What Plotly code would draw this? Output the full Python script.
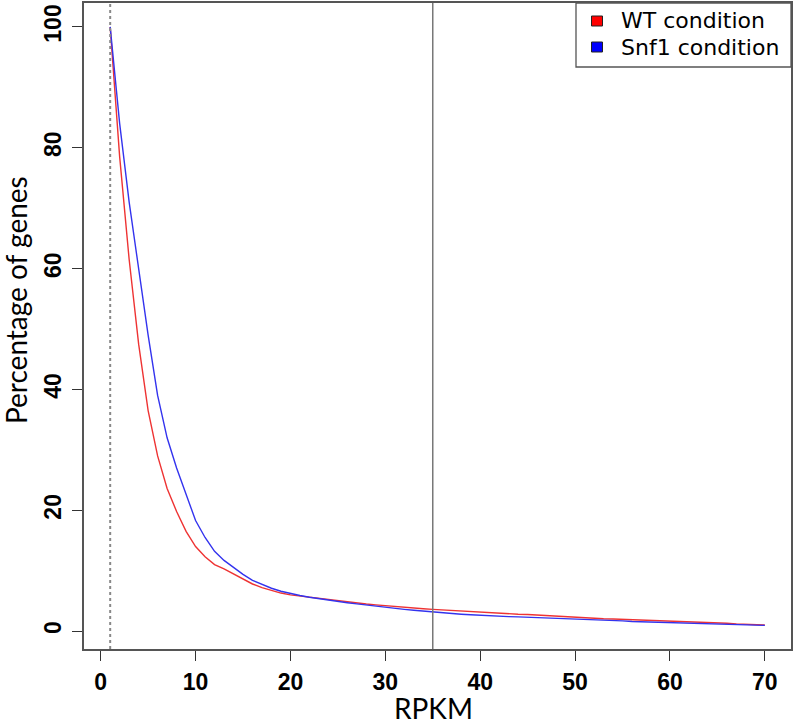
import plotly.graph_objects as go

# ---- data ----
rpkm = list(range(1, 71))
wt_pct = [100, 78.5, 61.5, 47.5, 36.5, 29.0, 23.6, 19.8, 16.5, 14.0,
          12.3, 11.0, 10.3, 9.5, 8.6, 7.8, 7.2, 6.7, 6.3, 6.0,
          5.8, 5.6, 5.4, 5.2, 5.0, 4.85, 4.7, 4.5, 4.35, 4.2,
          4.1, 3.95, 3.85, 3.7, 3.6, 3.5, 3.4, 3.3, 3.2, 3.1,
          3.0, 2.95, 2.85, 2.8, 2.75, 2.65, 2.55, 2.5, 2.4, 2.35,
          2.2, 2.1, 2.05, 2.0, 1.95, 1.9, 1.8, 1.75, 1.7, 1.6,
          1.55, 1.5, 1.45, 1.4, 1.35, 1.3, 1.2, 1.15, 1.1, 1.0]
snf1_pct = [100, 84, 71, 60, 49, 39, 32, 27, 22.5, 18.3,
            15.5, 13.2, 11.7, 10.5, 9.4, 8.4, 7.7, 7.1, 6.6, 6.2,
            5.9, 5.6, 5.35, 5.1, 4.9, 4.7, 4.5, 4.3, 4.1, 3.9,
            3.75, 3.6, 3.45, 3.3, 3.15, 3.0, 2.9, 2.8, 2.7, 2.6,
            2.5, 2.45, 2.4, 2.35, 2.3, 2.25, 2.2, 2.1, 2.05, 2.0,
            1.9, 1.85, 1.8, 1.75, 1.7, 1.6, 1.55, 1.5, 1.45, 1.4,
            1.35, 1.3, 1.25, 1.2, 1.15, 1.1, 1.1, 1.05, 1.0, 0.95]
series_names = ["WT condition", "Snf1 condition"]
series_colors = ["#ee3333", "#3333ee"]
legend_colors = ["#ff0000", "#0000ff"]
x_ticks = [0, 10, 20, 30, 40, 50, 60, 70]
y_ticks = [0, 20, 40, 60, 80, 100]
x_title = "RPKM"
y_title = "Percentage of genes"
low_cutoff = 1
high_cutoff = 35

W, H = 793, 726
L, R, T, B = 84, 2, 3, 77
pw, ph = W - L - R, H - T - B


def px_x(p):
    return (p - L) / pw


def px_y(p):
    return (H - B - p) / ph


fig = go.Figure()
for name, ys, col in zip(series_names, [wt_pct, snf1_pct], series_colors):
    fig.add_trace(go.Scatter(x=rpkm, y=ys, mode="lines", name=name,
                             line=dict(color=col, width=1.4), showlegend=False))

fig.add_vline(x=low_cutoff, line=dict(color="#888888", width=2, dash="3px,3px"))
fig.add_vline(x=high_cutoff, line=dict(color="#777777", width=1.5))

tickfont = dict(family="Liberation Sans, Arial", size=23, color="black", weight="bold")
common = dict(ticks="outside", ticklen=10, tickwidth=1.3, tickcolor="#333",
              showline=True, mirror=True, linecolor="#555", linewidth=1.5,
              showgrid=False, zeroline=False, tickfont=tickfont,
              ticklabelstandoff=2, automargin=False)
fig.update_xaxes(range=[-1.76, 72.76], tickvals=x_ticks, **common)
fig.update_yaxes(range=[-2.96, 103.96], tickvals=y_ticks, tickangle=-90, **common)

title_font = dict(family="Lato", size=28, color="black")
fig.add_annotation(text=y_title, xref="paper", yref="paper", textangle=-90,
                   x=px_x(16), y=px_y(300), xanchor="center", yanchor="middle",
                   showarrow=False, font=title_font)
fig.add_annotation(text=x_title, xref="paper", yref="paper",
                   x=px_x(433), y=px_y(708), xanchor="center", yanchor="middle",
                   showarrow=False, font=title_font)

# legend box (R-style) with filled squares
fig.add_shape(type="rect", xref="paper", yref="paper",
              x0=px_x(576), x1=1, y0=px_y(67), y1=1,
              line=dict(color="#555", width=1.3), fillcolor="white", layer="above")
for i, (name, col) in enumerate(zip(series_names, legend_colors)):
    yc = 21 + 26 * i
    fig.add_shape(type="rect", xref="paper", yref="paper",
                  x0=px_x(591.5), x1=px_x(602.5), y0=px_y(yc + 5), y1=px_y(yc - 5),
                  line=dict(color="#222", width=1), fillcolor=col, layer="above")
    fig.add_annotation(text=name, xref="paper", yref="paper",
                       x=px_x(619), y=px_y(yc), xanchor="left", yanchor="middle",
                       showarrow=False,
                       font=dict(family="DejaVu Sans", size=22, color="black"))

fig.update_layout(
    width=W, height=H,
    margin=dict(l=L, r=R, t=T, b=B, autoexpand=False),
    plot_bgcolor="white", paper_bgcolor="white",
    showlegend=False,
)
fig.write_html("out.html", config={"displayModeBar": False},
               post_script="document.body.style.margin='0';document.body.style.overflow='hidden';")
